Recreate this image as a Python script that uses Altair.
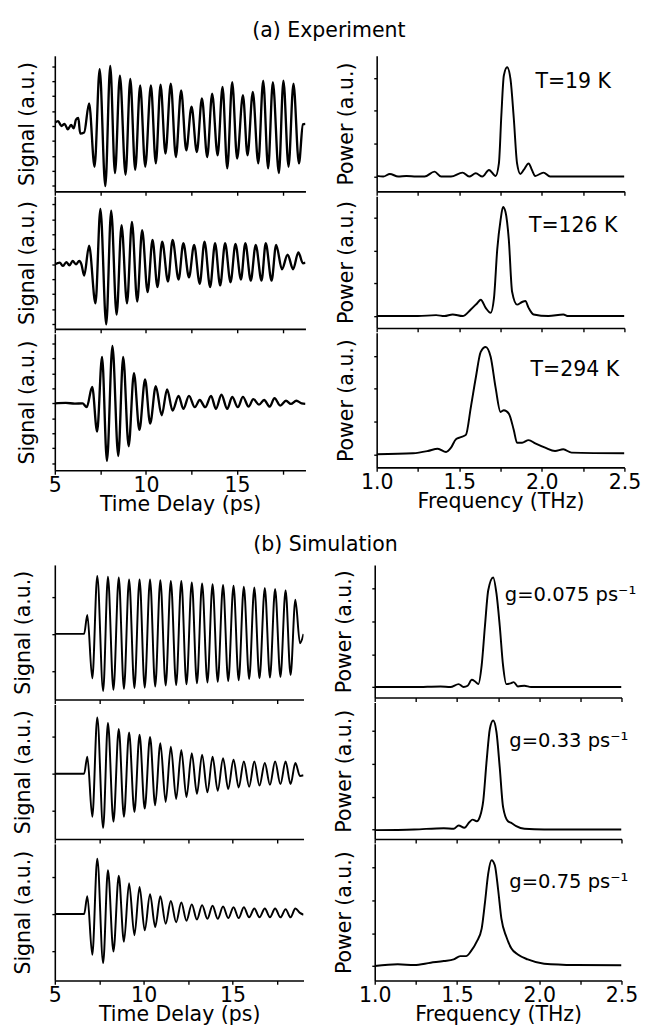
import altair as alt
import pandas as pd

FONT = "DejaVu Sans"
FS = 21

# ---------------- (a) Experiment : time traces ----------------
exp19_t = [5.0, 5.18, 5.36, 5.54, 5.71, 5.89, 6.04, 6.16, 6.29, 6.39, 6.61, 6.88, 7.18, 7.46, 7.77, 8.04, 8.30, 8.57,
           8.88, 9.14, 9.41, 9.68, 9.96, 10.27, 10.54, 10.80, 11.07, 11.36, 11.64, 11.93, 12.21, 12.5, 12.79, 13.07,
           13.36, 13.63, 13.93, 14.20, 14.46, 14.73, 15.0, 15.32, 15.57, 15.86, 16.16, 16.43, 16.70, 16.96, 17.29,
           17.54, 17.82, 18.09, 18.39, 18.61, 18.75]
exp19_s = [0.22, 0.33, 0.0, 0.15, -0.22, 0.07, -0.15, 0.43, 0.54, -0.5, -0.43, 1.52, -2.72, 3.8, -4.02, 4.02, -3.15,
           3.37, -3.26, 3.15, -2.93, 2.72, -2.72, 2.72, -2.5, 2.76, -1.85, 2.83, -2.07, 2.39, -1.63, 1.30, -1.74, 1.85,
           -2.07, 2.17, -1.96, 2.61, -2.83, 2.93, -2.17, 2.07, -1.96, 2.28, -2.5, 3.04, -2.83, 2.93, -3.15, 3.04,
           -2.72, 2.83, -2.5, 0.11, 0.15]

exp126_t = [5.0, 5.27, 5.45, 5.63, 5.80, 5.98, 6.16, 6.34, 6.46, 6.61, 6.88, 7.23, 7.5, 7.82, 8.09, 8.39, 8.66, 8.96,
            9.23, 9.52, 9.79, 10.09, 10.36, 10.63, 10.89, 11.21, 11.46, 11.79, 12.05, 12.36, 12.64, 12.95, 13.21,
            13.52, 13.79, 14.07, 14.34, 14.64, 14.91, 15.21, 15.45, 15.75, 16.02, 16.34, 16.57, 16.89, 17.14, 17.46,
            17.77, 18.07, 18.36, 18.61, 18.75]
exp126_s = [0.0, 0.11, -0.11, 0.15, -0.07, 0.22, 0.0, 0.22, 0.0, -0.76, 1.24, -2.61, 3.70, -4.02, 3.59, -3.37, 2.61,
            -2.61, 2.83, -2.5, 2.28, -1.85, 1.63, -1.52, 1.52, -1.15, 1.63, -1.02, 1.41, -0.87, 1.30, -1.30, 1.52,
            -1.52, 1.41, -1.41, 1.41, -1.20, 1.37, -1.02, 1.41, -1.09, 1.30, -1.09, 1.41, -1.09, 1.30, -0.33, 0.65,
            -0.33, 0.80, 0.07, 0.11]

exp294_t = [5.0, 5.6, 6.1, 6.52, 6.75, 7.05, 7.32, 7.59, 7.86, 8.16, 8.48, 8.75, 9.05, 9.34, 9.64, 9.95, 10.23, 10.54,
            10.86, 11.16, 11.46, 11.79, 12.05, 12.36, 12.68, 12.95, 13.25, 13.57, 13.84, 14.14, 14.46, 14.73, 15.04,
            15.32, 15.63, 15.89, 16.20, 16.48, 16.79, 17.05, 17.36, 17.68, 17.95, 18.25, 18.54, 18.75]
exp294_s = [0.0, 0.03, -0.02, 0.0, -0.26, 1.09, -1.89, 3.11, -3.85, 3.83, -3.52, 3.11, -2.87, 2.02, -1.78, 1.59, -1.35,
            1.15, -0.80, 0.93, -0.48, 0.50, -0.37, 0.50, -0.26, 0.22, -0.26, 0.50, -0.37, 0.57, -0.37, 0.43, -0.26,
            0.43, -0.22, 0.28, -0.09, 0.22, -0.22, 0.35, -0.15, 0.17, -0.04, 0.17, 0.0, -0.04]

# ---------------- (a) Experiment : power spectra ----------------
s19_f = [1.0, 1.04, 1.08, 1.13, 1.18, 1.24, 1.29, 1.35, 1.39, 1.45, 1.52, 1.56, 1.60, 1.64, 1.68, 1.72, 1.74, 1.755,
         1.77, 1.79, 1.81, 1.83, 1.85, 1.87, 1.89, 1.92, 1.94, 1.96, 2.01, 2.05, 2.16, 2.5]
s19_p = [0.02, 0.0, 0.08, 0.0, 0.02, 0.0, 0.0, 0.15, 0.0, 0.0, 0.12, 0.0, 0.10, 0.0, 0.20, 0.02, 0.40, 1.88, 3.07, 3.32,
         2.97, 1.78, 0.40, 0.08, 0.20, 0.40, 0.20, 0.02, 0.12, 0.0, 0.0, 0.0]

s126_f = [1.0, 1.25, 1.36, 1.41, 1.46, 1.52, 1.57, 1.61, 1.63, 1.66, 1.69, 1.71, 1.73, 1.75, 1.765, 1.78, 1.80, 1.82,
          1.85, 1.88, 1.90, 1.92, 1.95, 2.04, 2.13, 2.16, 2.5]
s126_p = [0.0, 0.0, 0.03, 0.0, 0.05, 0.0, 0.20, 0.40, 0.50, 0.25, 0.10, 0.54, 2.03, 2.92, 3.32, 3.17, 2.33, 0.74, 0.35,
          0.43, 0.46, 0.25, 0.05, 0.0, 0.05, 0.0, 0.0]

s294_f = [1.0, 1.22, 1.31, 1.37, 1.42, 1.45, 1.48, 1.51, 1.54, 1.57, 1.60, 1.63, 1.66, 1.69, 1.72, 1.75, 1.77, 1.80,
          1.83, 1.85, 1.88, 1.92, 1.96, 2.02, 2.08, 2.13, 2.18, 2.5]
s294_p = [0.0, 0.03, 0.10, 0.17, 0.07, 0.20, 0.46, 0.52, 0.59, 1.43, 2.33, 3.12, 3.27, 2.97, 2.03, 1.29, 1.34, 1.24,
          0.74, 0.35, 0.35, 0.43, 0.33, 0.20, 0.10, 0.15, 0.05, 0.03]

# ---------------- (b) Simulation : time traces ----------------
sim_t = [5.0, 6.65, 6.83, 7.11, 7.39, 7.72, 7.99, 8.30, 8.60, 8.89, 9.18, 9.48, 9.77, 10.06, 10.36, 10.65, 10.94,
         11.24, 11.53, 11.83, 12.12, 12.41, 12.71, 13.0, 13.29, 13.59, 13.88, 14.17, 14.47, 14.76, 15.06, 15.35,
         15.64, 15.94, 16.23, 16.52, 16.82, 17.11, 17.40, 17.70, 17.99, 18.27, 18.54, 18.80, 19.0]
sim075_s = [0.0, 0.0, 0.51, -1.20, 1.56, -1.54, 1.54, -1.51, 1.52, -1.48, 1.47, -1.46, 1.47, -1.45, 1.47, -1.42, 1.45,
            -1.39, 1.43, -1.38, 1.43, -1.36, 1.39, -1.33, 1.36, -1.31, 1.34, -1.29, 1.32, -1.27, 1.30, -1.25, 1.27,
            -1.22, 1.25, -1.20, 1.24, -1.18, 1.21, -1.16, 1.18, -1.11, 0.92, -0.25, 0.0]
sim033_s = [0.0, 0.0, 0.46, -1.16, 1.52, -1.46, 1.37, -1.29, 1.21, -1.16, 1.11, -1.03, 1.05, -0.94, 0.99, -0.85, 0.82,
            -0.76, 0.73, -0.68, 0.64, -0.63, 0.55, -0.54, 0.51, -0.50, 0.46, -0.46, 0.42, -0.41, 0.38, -0.37, 0.33,
            -0.35, 0.33, -0.32, 0.29, -0.30, 0.33, -0.28, 0.33, -0.28, 0.29, -0.06, -0.04]
sim75_s = [0.0, 0.0, 0.48, -1.10, 1.49, -1.32, 1.18, -1.01, 1.03, -0.75, 0.83, -0.57, 0.73, -0.44, 0.53, -0.35, 0.48,
           -0.26, 0.35, -0.22, 0.31, -0.18, 0.26, -0.15, 0.24, -0.13, 0.22, -0.13, 0.20, -0.11, 0.18, -0.11, 0.18,
           -0.09, 0.15, -0.09, 0.15, -0.09, 0.15, -0.09, 0.13, -0.09, 0.15, 0.03, -0.02]

# ---------------- (b) Simulation : power spectra ----------------
g075_f = [1.0, 1.24, 1.40, 1.46, 1.51, 1.54, 1.565, 1.59, 1.61, 1.63, 1.65, 1.67, 1.69, 1.72, 1.74, 1.76, 1.78, 1.80,
          1.83, 1.845, 1.87, 1.91, 1.95, 2.5]
g075_p = [0.0, 0.0, 0.02, 0.0, 0.09, 0.0, 0.04, 0.22, 0.17, 0.09, 0.66, 1.86, 2.95, 3.34, 2.85, 1.86, 0.66, 0.09, 0.12,
          0.15, 0.02, 0.04, 0.0, 0.0]
g033_f = [1.0, 1.24, 1.42, 1.48, 1.51, 1.545, 1.575, 1.595, 1.62, 1.64, 1.66, 1.68, 1.70, 1.72, 1.74, 1.76, 1.78, 1.81,
          1.83, 1.86, 1.91, 2.03, 2.5]
g033_p = [-0.02, 0.0, 0.04, 0.02, 0.12, 0.05, 0.22, 0.30, 0.25, 0.40, 0.89, 2.08, 3.07, 3.32, 2.97, 1.88, 0.69, 0.25,
          0.20, 0.10, 0.02, 0.0, 0.0]
g75_f = [1.0, 1.14, 1.24, 1.34, 1.42, 1.48, 1.52, 1.555, 1.585, 1.62, 1.65, 1.67, 1.69, 1.71, 1.73, 1.75, 1.77, 1.80,
         1.83, 1.87, 1.93, 2.03, 2.22, 2.5]
g75_p = [0.0, 0.05, 0.03, 0.10, 0.15, 0.20, 0.30, 0.30, 0.45, 0.74, 1.14, 1.93, 2.82, 3.22, 3.07, 2.33, 1.44, 0.89, 0.54,
         0.35, 0.20, 0.07, 0.03, 0.02]

# ---------------- labels ----------------
exp_labels = ["T=19 K", "T=126 K", "T=294 K"]
sim_labels = ["g=0.075 ps\u207b\u00b9", "g=0.33 ps\u207b\u00b9", "g=0.75 ps\u207b\u00b9"]

TIME_TICKS = [5, 7.5, 10, 12.5, 15, 17.5]
FREQ_TICKS = [1.0, 1.25, 1.5, 1.75, 2.0, 2.25, 2.5]


def panel(xs, ys, xdom, ydom, yticks, w, h, bottom, kind, ypad,
          label=None, lx=None, ly=None, sw=2.0, lfs=FS):
    df = pd.DataFrame({"x": xs, "y": ys})
    if kind == "time":
        ax_kw = dict(values=TIME_TICKS, labelExpr="datum.value % 5 == 0 ? datum.label : ''")
        xtitle, ytitle = "Time Delay (ps)", "Signal (a.u.)"
    else:
        ax_kw = dict(values=FREQ_TICKS, format=".1f",
                     labelExpr="round(datum.value * 4) % 2 == 0 ? datum.label : ''")
        xtitle, ytitle = "Frequency (THz)", "Power (a.u.)"
    ax_kw.update(tickSize=4, labels=bottom, labelPadding=1, labelFlush=False, labelOverlap=False)
    if bottom:
        ax_kw["title"] = xtitle
        ax_kw["titlePadding"] = -2
    else:
        ax_kw["title"] = None
    base = alt.Chart(df).mark_line(color="black", strokeWidth=sw, interpolate="monotone", clip=True).encode(
        x=alt.X("x:Q", scale=alt.Scale(domain=xdom, nice=False, zero=False), axis=alt.Axis(**ax_kw)),
        y=alt.Y("y:Q", scale=alt.Scale(domain=ydom, nice=False, zero=False),
                axis=alt.Axis(values=yticks, labels=False, tickSize=3, title=ytitle, titlePadding=ypad)),
    )
    layers = [base]
    if label is not None:
        tdf = pd.DataFrame({"x": [lx], "y": [ly], "t": [label]})
        txt = alt.Chart(tdf).mark_text(font=FONT, fontSize=lfs, color="black", align="center",
                                       baseline="middle").encode(x="x:Q", y="y:Q", text="t:N")
        layers.append(txt)
    return alt.layer(*layers).properties(width=w, height=h)


EXP_TDOM = [5, 18.75]
SIG9 = list(range(-4, 5))
exp_left = alt.vconcat(
    panel(exp19_t, exp19_s, EXP_TDOM, [-4.37, 4.7], SIG9, 257, 139, False, "time", 14, sw=2.4),
    panel(exp126_t, exp126_s, EXP_TDOM, [-4.32, 4.55], SIG9, 257, 136, False, "time", 14, sw=2.4),
    panel(exp294_t, exp294_s, EXP_TDOM, [-4.48, 4.65], SIG9, 257, 140, True, "time", 14, sw=2.4),
    spacing=0,
)
exp_right = alt.vconcat(
    panel(s19_f, s19_p, [1.0, 2.5], [-0.45, 3.67], [0, 1, 2, 3], 254, 139, False, "freq", 17,
          exp_labels[0], 2.19, 2.87),
    panel(s126_f, s126_p, [1.0, 2.5], [-0.36, 3.65], [0, 1, 2, 3], 254, 135, False, "freq", 17,
          exp_labels[1], 2.19, 2.75),
    panel(s294_f, s294_p, [1.0, 2.5], [-0.40, 3.70], [0, 1, 2, 3], 254, 138, True, "freq", 17,
          exp_labels[2], 2.2, 2.57),
    spacing=0,
)

SIM_TDOM = [5, 19]
sim_left = alt.vconcat(
    panel(sim_t, sim075_s, SIM_TDOM, [-1.77, 1.86], [-1, 0, 1], 255, 138, False, "time", 18),
    panel(sim_t, sim033_s, SIM_TDOM, [-1.76, 1.87], [-1, 0, 1], 255, 138, False, "time", 18),
    panel(sim_t, sim75_s, SIM_TDOM, [-1.79, 1.89], [-1, 0, 1], 255, 140, True, "time", 18),
    spacing=0,
)
sim_right = alt.vconcat(
    panel(g075_f, g075_p, [1.0, 2.5], [-0.32, 3.72], [0, 1, 2, 3], 253, 136, False, "freq", 17,
          sim_labels[0], 2.19, 2.80, lfs=20),
    panel(g033_f, g033_p, [1.0, 2.5], [-0.29, 3.87], [0, 1, 2, 3], 253, 140, False, "freq", 17,
          sim_labels[1], 2.18, 2.68, lfs=20),
    panel(g75_f, g75_p, [1.0, 2.5], [-0.44, 3.72], [0, 1, 2, 3], 253, 140, True, "freq", 17,
          sim_labels[2], 2.18, 2.56, lfs=20),
    spacing=0,
)

sec_a = alt.hconcat(exp_left, exp_right, spacing=31,
                    title=alt.Title("(a) Experiment", anchor="middle", fontSize=21, fontWeight="normal",
                                    font=FONT, color="black", offset=15))
sec_b = alt.hconcat(sim_left, sim_right, spacing=31,
                    title=alt.Title("(b) Simulation", anchor="middle", fontSize=21, fontWeight="normal",
                                    font=FONT, color="black", offset=10))

chart = alt.vconcat(sec_a, sec_b, spacing=21).properties(
    padding={"left": 5, "top": 0, "right": 0, "bottom": 0}
).configure(font=FONT).configure_view(strokeWidth=0).configure_axis(
    domainColor="black", domainWidth=1.6, tickColor="black", tickWidth=1.4,
    labelColor="black", labelFont=FONT, labelFontSize=FS, titleColor="black", titleFont=FONT,
    titleFontSize=FS, titleFontWeight="normal", grid=False
)

chart.save("out.html", embed_options={"renderer": "svg", "actions": False})
